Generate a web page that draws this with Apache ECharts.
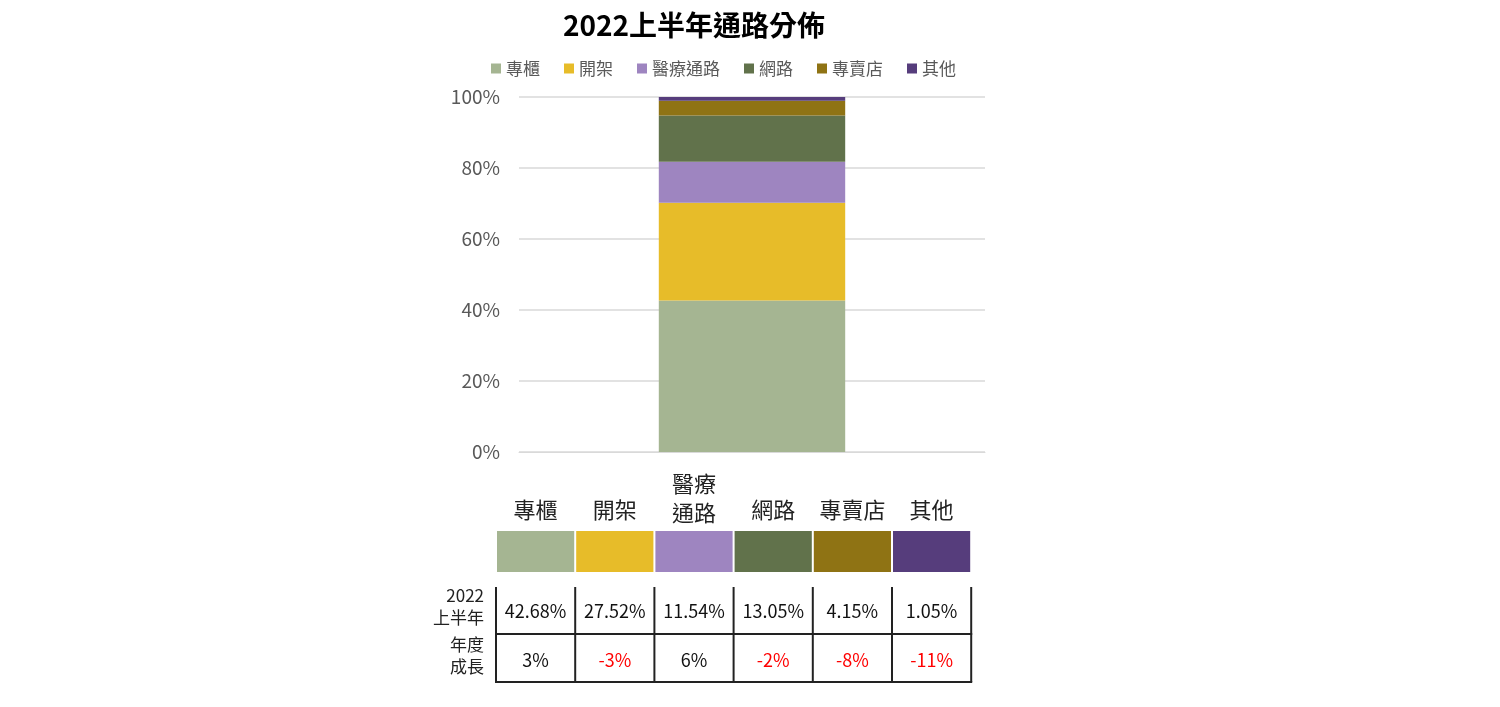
<!DOCTYPE html>
<html lang="zh-Hant">
  <head>
    <meta charset="UTF-8" />
    <script src="https://cdn.jsdelivr.net/npm/echarts@6/dist/echarts.min.js"></script>
    <title>2022上半年通路分佈</title>
    <style>
      body { margin: 0; background: #fff; }
      #container { width: 1500px; height: 707px; }
    </style>
  </head>
  <body>
    <div id="container"></div>
    <script>
      const channels = ["專櫃", "開架", "醫療通路", "網路", "專賣店", "其他"];
      const headerLines = [["專櫃"], ["開架"], ["醫療", "通路"], ["網路"], ["專賣店"], ["其他"]];
      const colors = ["#a5b592", "#e7bc29", "#9e85c0", "#61724b", "#8f7314", "#563d7c"];
      const share = [42.68, 27.52, 11.54, 13.05, 4.15, 1.05];
      const growth = [3, -3, 6, -2, -8, -11];
      const rowLabels = [["2022", "上半年"], ["年度", "成長"]];

      const font = '"Noto Sans CJK TC", "Noto Sans", sans-serif';
      const chart = echarts.init(document.getElementById("container"));

      // table below the bar
      const tLeft = 496, colW = 79.2, tTop = 587, tMid = 634, tBottom = 682;
      const g = [];
      channels.forEach((name, i) => {
        const cx = tLeft + colW * i + colW / 2;
        const lines = headerLines[i];
        lines.forEach((s, j) => {
          g.push({
            type: "text",
            style: {
              text: s, x: cx, y: lines.length === 1 ? 510 : 484 + j * 29,
              align: "center", verticalAlign: "middle",
              font: "22px " + font, fill: "#222"
            }
          });
        });
        g.push({
          type: "rect",
          shape: { x: tLeft + colW * i + 1, y: 531, width: colW - 2, height: 41 },
          style: { fill: colors[i] }
        });
        g.push({
          type: "text",
          style: {
            text: share[i].toFixed(2) + "%", x: cx, y: 611,
            align: "center", verticalAlign: "middle",
            font: "18px " + font, fill: "#111"
          }
        });
        g.push({
          type: "text",
          style: {
            text: growth[i] + "%", x: cx, y: 660,
            align: "center", verticalAlign: "middle",
            font: "18px " + font, fill: growth[i] < 0 ? "#ff0000" : "#111"
          }
        });
      });
      for (let i = 0; i <= channels.length; i++) {
        const x = tLeft + colW * i;
        g.push({
          type: "line",
          shape: { x1: x, y1: tTop, x2: x, y2: tBottom },
          style: { stroke: "#222", lineWidth: 2 }
        });
      }
      [tMid, tBottom].forEach((y) => {
        g.push({
          type: "line",
          shape: { x1: tLeft - 1, y1: y, x2: tLeft + colW * channels.length + 1, y2: y },
          style: { stroke: "#222", lineWidth: 2 }
        });
      });
      rowLabels.forEach((lines, r) => {
        lines.forEach((s, j) => {
          g.push({
            type: "text",
            style: {
              text: s, x: 484, y: (r === 0 ? 596 : 645) + j * 22,
              align: "right", verticalAlign: "middle",
              font: "17px " + font, fill: "#222"
            }
          });
        });
      });

      const option = {
        animation: false,
        title: {
          text: "2022上半年通路分佈",
          left: 558,
          top: 6,
          textStyle: { fontFamily: font, fontSize: 28, fontWeight: "bold", color: "#000" }
        },
        legend: {
          left: 486,
          top: 55,
          itemWidth: 10,
          itemHeight: 10,
          itemGap: 24,
          icon: "rect",
          textStyle: { fontFamily: font, fontSize: 17, color: "#595959" },
          data: channels
        },
        grid: { left: 519, right: 515, top: 97, bottom: 255 },
        xAxis: {
          type: "category",
          data: ["2022上半年"],
          axisLine: { lineStyle: { color: "#d9d9d9" } },
          axisTick: { show: false },
          axisLabel: { show: false }
        },
        yAxis: {
          type: "value",
          min: 0,
          max: 100,
          interval: 20,
          axisLine: { show: false },
          axisTick: { show: false },
          axisLabel: {
            formatter: "{value}%",
            margin: 19,
            color: "#595959",
            fontSize: 19,
            fontFamily: font
          },
          splitLine: { lineStyle: { color: "#d9d9d9", width: 1.5 } }
        },
        series: channels.map((name, i) => ({
          name: name,
          type: "bar",
          stack: "total",
          barWidth: "40%",
          itemStyle: { color: colors[i] },
          data: [share[i]]
        })),
        graphic: g
      };

      chart.setOption(option);
    </script>
  </body>
</html>
